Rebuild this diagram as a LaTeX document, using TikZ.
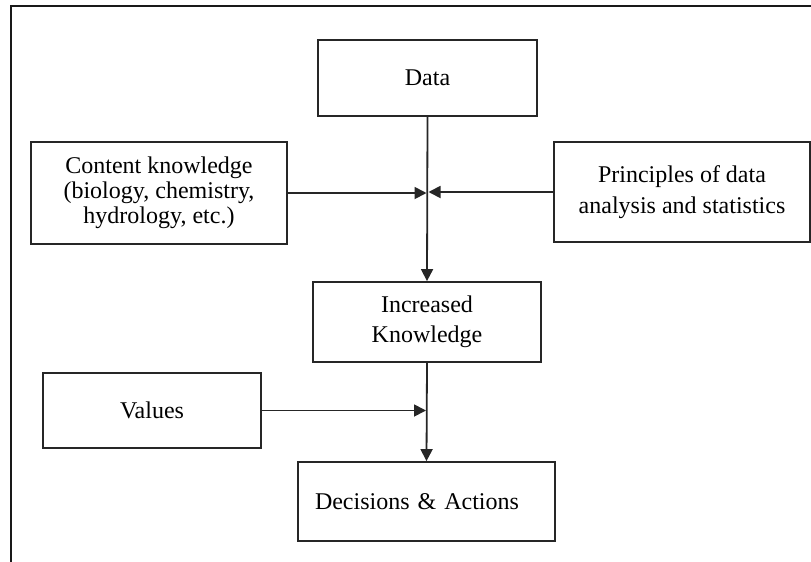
\documentclass[tikz,border=0pt]{standalone}
\usepackage{fontspec}
\setmainfont{Liberation Serif}
\usetikzlibrary{arrows.meta}
\begin{document}
\begin{tikzpicture}[x=1pt,y=-1pt,
  box/.style={draw=black!85,line width=1.8pt,inner sep=0pt,align=center,
    font=\fontsize{24}{25}\selectfont},
  arr/.style={draw=black!85,line width=1.8pt,-{Triangle[length=12pt,width=12pt]}},
  frameline/.style={draw=black!90,line width=2.2pt}]
\useasboundingbox (0,0) rectangle (811,562);
\draw[frameline] (11,562) -- (11,6) -- (811,6);
\node[box,minimum width=219pt,minimum height=76pt] (data) at (427.5,78) {Data};
\node[box,minimum width=256pt,minimum height=102pt] (content) at (159,193)
  {Content knowledge\\(biology, chemistry,\\hydrology, etc.)};
\node[box,minimum width=256pt,minimum height=100pt,
  font=\fontsize{24}{31}\selectfont] (princ) at (682,192)
  {Principles of data\\analysis and statistics};
\node[box,minimum width=228pt,minimum height=80pt,
  font=\fontsize{24}{30}\selectfont] (inc) at (427,322)
  {Increased\\Knowledge};
\node[box,minimum width=218pt,minimum height=75pt] (values) at (152,410.5) {Values};
\node[box,minimum height=79pt,text width=223pt,inner xsep=17pt,align=left] (dec) at (426.5,501.5)
  {Decisions \& Actions};
\draw[arr] (data.south) -- (inc.north);
\draw[arr,shorten >=1pt] (content.east) -- (content.east -| data.south);
\draw[arr,shorten >=1pt] (princ.west) -- (princ.west -| data.south);
\draw[arr] (inc.south) -- (dec.north);
\draw[arr,shorten >=1pt] (values.east) -- (values.east -| inc.south);
\end{tikzpicture}
\end{document}
